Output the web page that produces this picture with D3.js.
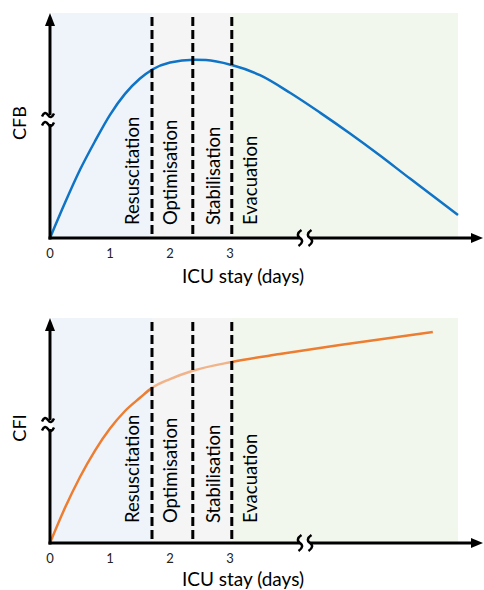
<!DOCTYPE html>
<html><head><meta charset="utf-8">
<script src="https://cdn.jsdelivr.net/npm/d3@7"></script>
<style>
html,body{margin:0;padding:0;background:#fff;}
svg{display:block;font-family:Lato,"Open Sans",sans-serif;}
</style></head>
<body>
<svg id="chart" width="484" height="590"></svg>
<script>
// ---- data ----
const tickValues = [0, 1, 2, 3];
const phaseLabels = ["Resuscitation", "Optimisation", "Stabilisation", "Evacuation"];
const phaseBounds = [1.7, 2.38, 3.03];           // dashed separators (days)
const shadeBands = [[0.03, 1.7], [1.7, 3.03], [3.03, 6.8]];
const shadeColors = ["#eff4fa", "#f5f5f5", "#f2f7ed"];
const cfbDays   = [0, 0.25, 0.5, 0.75, 1.0, 1.25, 1.5, 1.7, 2.0, 2.4, 2.6, 3.03, 3.5, 4.0, 4.5, 5.0, 5.5, 6.0, 6.4, 6.8];
const cfbValues = [0, 16, 31, 44, 56, 65.5, 72.5, 76.5, 79.8, 81, 80.9, 78.6, 74, 66, 57, 47.5, 37.5, 27, 18.8, 10.5];
const cfiDays   = [0, 0.25, 0.5, 0.75, 1.0, 1.25, 1.5, 1.7, 2.0, 2.38, 3.03, 3.83, 4.83, 6.38];
const cfiValues = [0, 16, 30, 42, 52, 60, 66, 70.5, 74.5, 78.3, 82.3, 85.9, 90, 95.9];

const svg = d3.select("#chart");
const x = d3.scaleLinear().domain([0, 7]).range([50, 470]);
const y = d3.scaleLinear().domain([0, 100]).range([238, 18]);

function tildeH(cx, cy) { // horizontal tilde
  return `M${cx-6},${cy+1.5} C${cx-4},${cy-3} ${cx-2},${cy-3} ${cx},${cy} S${cx+4},${cy+3} ${cx+6},${cy-1.5}`;
}
function tildeV(cx, cy) { // vertical tilde
  return `M${cx+1.5},${cy-8} C${cx-3},${cy-5} ${cx-3},${cy-2} ${cx},${cy} S${cx+3},${cy+5} ${cx-1.5},${cy+8}`;
}

function panel(offset, label, days, values, color, lightMid, textY, titleY) {
  const g = svg.append("g").attr("transform", `translate(0,${offset})`);
  // shading
  g.selectAll("rect.band").data(shadeBands).join("rect")
    .attr("x", d => x(d[0])).attr("width", d => x(d[1]) - x(d[0]))
    .attr("y", 13).attr("height", y(0) - 13)
    .attr("fill", (d, i) => shadeColors[i]);

  // curve
  const line = d3.line().x((d, i) => x(days[i])).y(d => y(d)).curve(d3.curveMonotoneX);
  const id = "c" + offset;
  const defs = g.append("defs");
  defs.append("clipPath").attr("id", id + "a").append("rect")
    .attr("x", 0).attr("y", 0).attr("width", x(phaseBounds[0])).attr("height", 260);
  defs.append("clipPath").attr("id", id + "b").append("rect")
    .attr("x", x(phaseBounds[0])).attr("y", 0).attr("width", x(phaseBounds[2]) - x(phaseBounds[0])).attr("height", 260);
  defs.append("clipPath").attr("id", id + "c").append("rect")
    .attr("x", x(phaseBounds[2])).attr("y", 0).attr("width", 484).attr("height", 260);
  ["a", "b", "c"].forEach(k => {
    g.append("path").datum(values).attr("d", line)
      .attr("fill", "none").attr("stroke", color).attr("stroke-width", 2.5)
      .attr("stroke-opacity", (lightMid && k === "b") ? 0.55 : 1)
      .attr("clip-path", `url(#${id + k})`);
  });

  // dashed lines
  g.selectAll("line.dash").data(phaseBounds).join("line")
    .attr("x1", d => x(d)).attr("x2", d => x(d))
    .attr("y1", 17).attr("y2", y(0))
    .attr("stroke", "#000").attr("stroke-width", 3).attr("stroke-dasharray", "9,4");

  // phase labels
  const baseX = [139, 177, 220, 257];
  g.selectAll("text.phase").data(phaseLabels).join("text")
    .attr("transform", (d, i) => `translate(${baseX[i]},${textY}) rotate(-90)`)
    .attr("font-size", 18.5).attr("fill", "#000").text(d => d);

  // axes
  g.append("line").attr("x1", x(0)).attr("x2", x(0)).attr("y1", y(0) + 1.5).attr("y2", 24)
    .attr("stroke", "#000").attr("stroke-width", 3);
  g.append("path").attr("d", "M50,13 L55,26 L45,26 Z").attr("fill", "#000");
  g.append("line").attr("x1", x(0) - 1.5).attr("x2", 473).attr("y1", y(0)).attr("y2", y(0))
    .attr("stroke", "#000").attr("stroke-width", 3);
  g.append("path").attr("d", `M483,${y(0)} L471,${y(0) - 5} L471,${y(0) + 5} Z`).attr("fill", "#000");

  // axis breaks
  g.append("rect").attr("x", 47).attr("y", 115).attr("width", 6).attr("height", 9).attr("fill", "#fff");
  g.append("path").attr("d", tildeH(48, 115)).attr("fill", "none").attr("stroke", "#000").attr("stroke-width", 2.5);
  g.append("path").attr("d", tildeH(48, 124)).attr("fill", "none").attr("stroke", "#000").attr("stroke-width", 2.5);
  g.append("rect").attr("x", 300).attr("y", y(0) - 3).attr("width", 10).attr("height", 6).attr("fill", "#fff");
  g.append("path").attr("d", tildeV(300, y(0))).attr("fill", "none").attr("stroke", "#000").attr("stroke-width", 2.5);
  g.append("path").attr("d", tildeV(310, y(0))).attr("fill", "none").attr("stroke", "#000").attr("stroke-width", 2.5);

  // tick labels
  g.selectAll("text.tick").data(tickValues).join("text")
    .attr("x", d => x(d)).attr("y", 258).attr("text-anchor", "middle")
    .attr("font-size", 13).attr("fill", "#222").text(d => d);
  g.append("text").attr("x", 243).attr("y", titleY).attr("text-anchor", "middle")
    .attr("font-size", 19).attr("fill", "#000").text("ICU stay (days)");
  g.append("text").attr("transform", "translate(26,123) rotate(-90)").attr("text-anchor", "middle")
    .attr("font-size", 18).attr("fill", "#000").text(label);
}

panel(0, "CFB", cfbDays, cfbValues, "#0f73c6", false, 225, 283);
panel(305, "CFI", cfiDays, cfiValues, "#ed7d31", true, 218, 281);
</script>
</body></html>
